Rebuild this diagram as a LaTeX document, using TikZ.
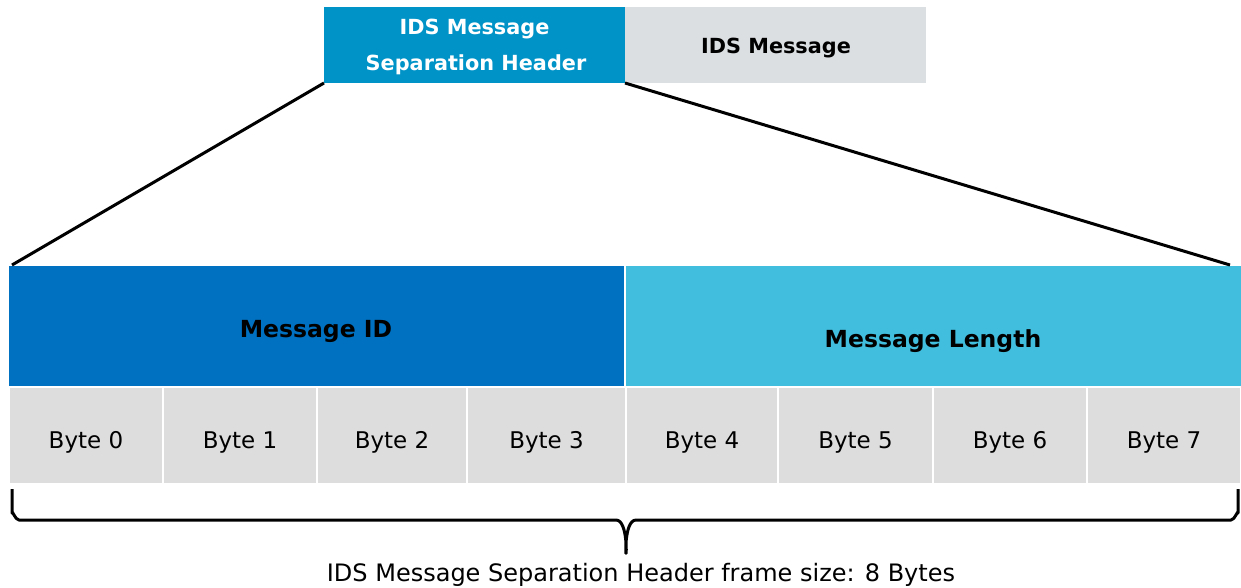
\documentclass[tikz,border=0pt]{standalone}
\usepackage{fontspec}
\setmainfont{DejaVu Sans}
\definecolor{hdrblue}{RGB}{0,147,200}
\definecolor{topgrey}{RGB}{220,223,226}
\definecolor{idblue}{RGB}{0,112,192}
\definecolor{lenblue}{RGB}{65,189,221}
\definecolor{bytegrey}{RGB}{221,221,221}
\begin{document}
\begin{tikzpicture}[x=1pt,y=-1pt,
  box/.style={inner sep=0pt, outer sep=0pt, anchor=north west},
  bytebox/.style={box, fill=bytegrey, draw=white, line width=1.5pt, minimum height=97pt},
  bytetxt/.style={anchor=base, inner sep=0pt, font=\fontsize{23}{27}\selectfont},
  toptxt/.style={anchor=base, inner sep=0pt, font=\bfseries\fontsize{20.8}{25}\selectfont},
  midtxt/.style={anchor=base, inner sep=0pt, font=\bfseries\fontsize{23.5}{28}\selectfont},
  conn/.style={line width=3pt, black}]
\useasboundingbox (0,0) rectangle (1241,587);
% top boxes
\node[box, fill=hdrblue, minimum width=301pt, minimum height=76pt] (hdr) at (324,7) {};
\node[toptxt, text=white] (hdrt1) at (474.5,34.5) {IDS Message};
\node[toptxt, text=white] (hdrt2) at (476,70.5) {Separation Header};
\node[box, fill=topgrey, minimum width=301pt, minimum height=76pt] (msg) at (625,7) {};
\node[toptxt] (msgt) at (776,53.5) {IDS Message};
% middle boxes
\node[box, fill=idblue, minimum width=616pt, minimum height=121pt] (mid) at (9,266) {};
\node[midtxt] (midt) at (316,337.5) {Message ID};
\node[box, fill=lenblue, minimum width=615pt, minimum height=121pt] (len) at (626,266) {};
\node[midtxt] (lent) at (933,347.5) {Message Length};
\draw[white, line width=1.5pt] (mid.north east) -- (mid.south east);
% bytes
\foreach \i/\xa/\w in {0/9/154,1/163/154,2/317/150,3/467/159,4/626/152,5/778/155,6/933/154,7/1087/154}{
  \node[bytebox, minimum width=\w pt] (b\i) at (\xa,387) {};
  \node[bytetxt] (bt\i) at ([yshift=-61.5pt]b\i.north) {Byte \i};
}
% connectors
\coordinate (lt) at (12,265);
\coordinate (rt) at (1230,265);
\draw[conn] (hdr.south west) -- (lt);
\draw[conn] (hdr.south east) -- (rt);
% brace
\coordinate (bl) at (12,489);
\coordinate (br) at (1238,489);
\coordinate (tip) at (626,551);
\draw[conn, line join=round] (bl) -- (12,513) to[out=90,in=180] (19,520) -- (616,520) to[out=0,in=-90] (tip) to[out=-90,in=180] (636,520) -- (1231,520) to[out=0,in=90] (1238,513) -- (br);
\node[anchor=base, inner sep=0pt, font=\fontsize{24}{28}\selectfont] (lab) at (641,581) {IDS Message Separation Header frame size: 8 Bytes};
\end{tikzpicture}
\end{document}
